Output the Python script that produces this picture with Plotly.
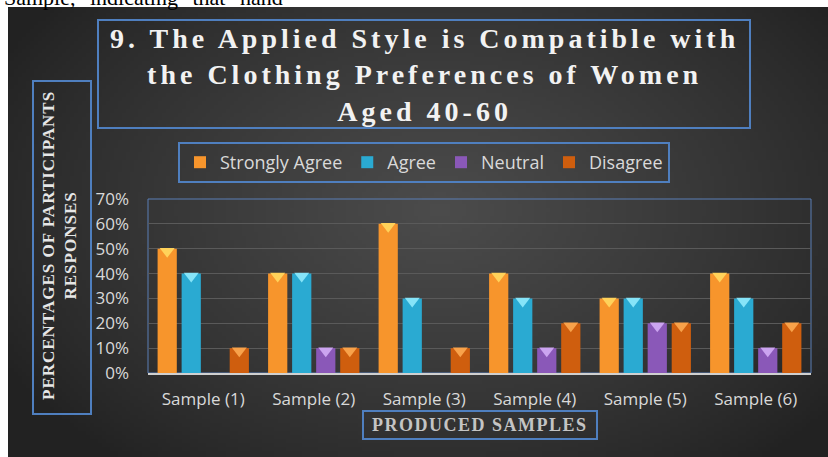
import base64
import struct
import zlib

import numpy as np
import plotly.graph_objects as go

# ---------------- data ----------------
categories = ["Sample (1)", "Sample (2)", "Sample (3)", "Sample (4)", "Sample (5)", "Sample (6)"]
strongly_agree = [50, 40, 60, 40, 30, 40]
agree = [40, 40, 30, 30, 30, 30]
neutral = [0, 10, 0, 10, 20, 10]
disagree = [10, 10, 10, 20, 20, 20]
series_names = ["Strongly Agree", "Agree", "Neutral", "Disagree"]
y_tick_values = [0, 10, 20, 30, 40, 50, 60, 70]
y_tick_labels = ["0%", "10%", "20%", "30%", "40%", "50%", "60%", "70%"]

title_lines = ["9. The Applied Style is Compatible with",
               "the Clothing Preferences of Women",
               "Aged 40-60"]
y_title_lines = ["PERCENTAGES OF PARTICIPANTS", "RESPONSES"]
x_title_text = "PRODUCED SAMPLES"
top_strip_text = "Sample, indicating that hand"

# ---------------- styling ----------------
W, H = 828, 457
PL, PR, PT, PB = 148, 811, 199, 373  # plot area in px

face_colors = ["#F7952C", "#2AAAD2", "#8A58B8", "#CF5E0E"]
cap_colors = ["#FFD25A", "#86E4F8", "#CBA4F0", "#F8A24A"]
box_blue = "#4F7FBF"


def px_x(p):
    return (p - PL) / (PR - PL)


def px_y(p):
    return (PB - p) / (PB - PT)


def spaced(lines, sp):
    return "<br>".join('<span style="letter-spacing:%spx">%s</span>' % (sp, t) for t in lines)


def gradient_png(w, h):
    xs = (np.arange(w) + 0.5) / w * 820 + 8
    ys = (np.arange(h) + 0.5) / h * 450 + 7
    X, Y = np.meshgrid(xs, ys)
    d = np.sqrt(((X - 440) / 500.0) ** 2 + ((Y - 210) / 330.0) ** 2)
    d = np.clip(d, 0, 1)
    v = 34 + (76 - 34) * (1 - d) ** 0.85
    v = np.clip(v, 0, 255).astype(np.uint8)
    rgb = np.stack([v, v, v], axis=-1)
    raw = b"".join(b"\x00" + rgb[r].tobytes() for r in range(h))

    def chunk(t, dat):
        c = struct.pack(">I", len(dat)) + t + dat
        return c + struct.pack(">I", zlib.crc32(t + dat) & 0xFFFFFFFF)

    png = (b"\x89PNG\r\n\x1a\n"
           + chunk(b"IHDR", struct.pack(">IIBBBBB", w, h, 8, 2, 0, 0, 0))
           + chunk(b"IDAT", zlib.compress(raw, 9))
           + chunk(b"IEND", b""))
    return "data:image/png;base64," + base64.b64encode(png).decode()


fig = go.Figure()

all_series = [strongly_agree, agree, neutral, disagree]
for name, vals, col in zip(series_names, all_series, face_colors):
    fig.add_trace(go.Bar(
        x=categories, y=vals, name=name,
        marker=dict(color=col, line=dict(width=0)),
        hoverinfo="skip",
    ))

# lighter "top face" triangles of the 3D bars
for name, vals, col in zip(series_names, all_series, cap_colors):
    fig.add_trace(go.Scatter(
        x=categories, y=[v - 1 if v > 0 else None for v in vals],
        mode="markers", showlegend=False, hoverinfo="skip",
        marker=dict(symbol="triangle-down", size=13, color=col, line=dict(width=0)),
    ))

serif = "Liberation Serif, Times New Roman, serif"
sans = "Open Sans, Noto Sans, sans-serif"

shapes = [
    dict(type="rect", xref="paper", yref="paper", layer="below",
         x0=px_x(98), x1=px_x(750), y0=px_y(128), y1=px_y(20),
         line=dict(color=box_blue, width=2)),
    dict(type="rect", xref="paper", yref="paper", layer="below",
         x0=px_x(33), x1=px_x(91), y0=px_y(414), y1=px_y(81),
         line=dict(color=box_blue, width=2)),
    dict(type="rect", xref="paper", yref="paper", layer="below",
         x0=px_x(363), x1=px_x(597), y0=px_y(439), y1=px_y(411),
         line=dict(color=box_blue, width=2)),
    dict(type="rect", xref="paper", yref="paper", layer="below",
         x0=0, x1=1, y0=0, y1=1,
         line=dict(color="#5B7FB6", width=1)),
]

annotations = [
    dict(x=px_x(424), y=px_y(75), xref="paper", yref="paper",
         text=spaced(title_lines, 4),
         showarrow=False, xanchor="center", yanchor="middle", align="center",
         font=dict(family=serif, size=28, color="#F2F2F2", weight="bold")),
    dict(x=px_x(59), y=px_y(246), xref="paper", yref="paper",
         text=spaced(y_title_lines, 1),
         textangle=-90, showarrow=False, xanchor="center", yanchor="middle", align="center",
         font=dict(family=serif, size=17, color="#E6E6E6", weight="bold")),
    dict(x=px_x(480), y=px_y(425), xref="paper", yref="paper",
         text=spaced([x_title_text], 1.5),
         showarrow=False, xanchor="center", yanchor="middle",
         font=dict(family=serif, size=18, color="#C4C4C4", weight="bold")),
    dict(x=px_x(2), y=px_y(-3), xref="paper", yref="paper",
         text='<span style="word-spacing:9px">' + top_strip_text + "</span>",
         showarrow=False, xanchor="left", yanchor="middle",
         font=dict(family=serif, size=22, color="#000000")),
]

fig.update_layout(
    width=W, height=H,
    margin=dict(l=PL, r=W - PR, t=PT, b=H - PB, pad=0, autoexpand=False),
    paper_bgcolor="#FFFFFF",
    plot_bgcolor="rgba(0,0,0,0)",
    barmode="group", bargap=0.13, bargroupgap=0.2,
    scattermode="group", scattergap=0.13,
    showlegend=True,
    legend=dict(
        orientation="h", xref="container", yref="container",
        x=424 / W, y=1 - 142 / H, xanchor="center", yanchor="top",
        bgcolor="rgba(0,0,0,0)", bordercolor=box_blue, borderwidth=2,
        font=dict(family=sans, size=18, color="#D9D9D9"),
        itemclick=False, itemdoubleclick=False,
    ),
    images=[dict(
        source=gradient_png(205, 113), xref="paper", yref="paper",
        x=px_x(8), y=px_y(7), sizex=(W - 8) / (PR - PL), sizey=(H - 7) / (PB - PT),
        xanchor="left", yanchor="top", sizing="stretch", layer="below",
    )],
    shapes=shapes,
    annotations=annotations,
    xaxis=dict(
        showline=True, linecolor="#D0D0D0", linewidth=2,
        showgrid=False, ticks="", ticklabelstandoff=10,
        tickfont=dict(family=sans, size=17, color="#D9D9D9"),
        fixedrange=True,
    ),
    yaxis=dict(
        range=[0, 70], tickmode="array", tickvals=y_tick_values, ticktext=y_tick_labels,
        showgrid=True, gridcolor="#5A5A5A", gridwidth=1,
        zeroline=False, showline=False, ticks="",
        ticklabelstandoff=18,
        tickfont=dict(family=sans, size=17, color="#D9D9D9"),
        fixedrange=True,
    ),
)

fig.write_html(
    "out.html",
    config={"displayModeBar": False, "staticPlot": True},
    post_script="document.body.style.margin='0';document.documentElement.style.overflow='hidden';",
)
